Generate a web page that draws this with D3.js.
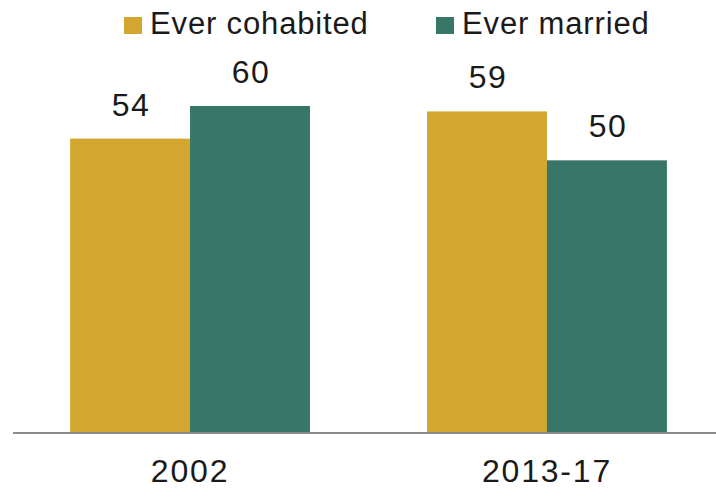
<!DOCTYPE html>
<html>
<head>
<meta charset="utf-8">
<script src="https://cdn.jsdelivr.net/npm/d3@7"></script>
<style>
  html, body { margin: 0; padding: 0; background: #fff; }
  svg { display: block; font-family: "Liberation Sans", Arial, sans-serif; }
</style>
</head>
<body>
<svg id="chart" width="716" height="488"></svg>
<script>
// Share of adults who have ever cohabited / ever married, by survey period
const periods = ["2002", "2013-17"];
const seriesNames = ["Ever cohabited", "Ever married"];
const everCohabited = [54, 59];
const everMarried = [60, 50];
const seriesColors = ["#d3a62f", "#387668"];

const values = [everCohabited, everMarried];
const rows = periods.map((p, i) => ({
  period: p,
  items: seriesNames.map((s, j) => ({ series: s, value: values[j][i] }))
}));

const svg = d3.select("#chart");
const baseline = 432;

const x0 = d3.scaleBand()
  .domain(periods)
  .range([13, 724])
  .paddingInner(0.328)
  .paddingOuter(0.16);

const x1 = d3.scaleBand()
  .domain(seriesNames)
  .range([0, x0.bandwidth()])
  .padding(0);

const y = d3.scaleLinear()
  .domain([0, 60])
  .range([baseline, 106]);

const color = d3.scaleOrdinal().domain(seriesNames).range(seriesColors);

// Bars and value labels
const groups = svg.append("g")
  .selectAll("g")
  .data(rows)
  .join("g")
  .attr("transform", d => `translate(${x0(d.period)},0)`);

groups.selectAll("rect")
  .data(d => d.items)
  .join("rect")
  .attr("x", d => x1(d.series))
  .attr("y", d => y(d.value))
  .attr("width", x1.bandwidth())
  .attr("height", d => baseline - y(d.value))
  .attr("fill", d => color(d.series));

groups.selectAll("text")
  .data(d => d.items)
  .join("text")
  .attr("x", d => x1(d.series) + x1.bandwidth() / 2 + 1)
  .attr("y", d => y(d.value) - 23)
  .attr("text-anchor", "middle")
  .attr("font-size", 32)
  .attr("letter-spacing", "1.5px")
  .attr("fill", "#1a1a1a")
  .text(d => d.value);

// Category axis
const axis = svg.append("g")
  .attr("transform", `translate(0,${baseline + 1})`)
  .call(d3.axisBottom(x0).tickSize(0).tickPadding(0));
axis.select(".domain")
  .attr("d", "M13,0H716")
  .attr("stroke", "#8c8c8c")
  .attr("stroke-width", 2.2);
axis.selectAll(".tick text")
  .attr("font-family", "Liberation Sans, Arial, sans-serif")
  .attr("font-size", 32)
  .attr("letter-spacing", "1.8px")
  .attr("fill", "#1a1a1a")
  .attr("dy", 0)
  .attr("y", 49);

// Legend
const legendX = [124, 436];
const legend = svg.append("g")
  .selectAll("g")
  .data(seriesNames)
  .join("g")
  .attr("transform", (d, i) => `translate(${legendX[i]},0)`);

legend.append("rect")
  .attr("x", 0)
  .attr("y", 17)
  .attr("width", 18)
  .attr("height", 17)
  .attr("fill", d => color(d));

legend.append("text")
  .attr("x", 26)
  .attr("y", 34)
  .attr("font-size", 31)
  .attr("letter-spacing", "0.85px")
  .attr("fill", "#1a1a1a")
  .text(d => d);
</script>
</body>
</html>
